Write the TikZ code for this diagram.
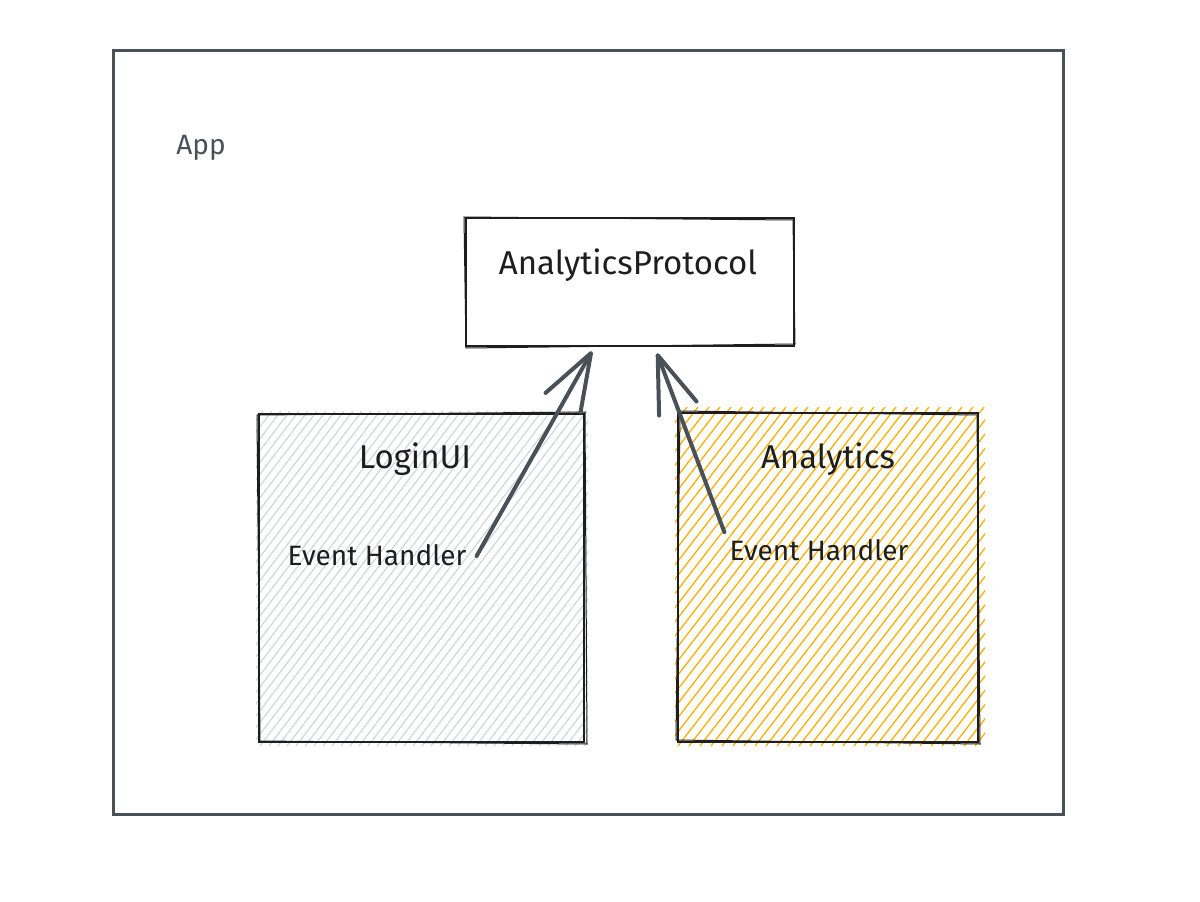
\documentclass[tikz,border=0pt]{standalone}
\usepackage{fontspec}
\setmainfont{Fira Sans}
\usetikzlibrary{arrows.meta,calc}
\definecolor{frame}{HTML}{495057}
\definecolor{ink}{HTML}{1E1E1E}
\definecolor{hgray}{HTML}{CED4DA}
\definecolor{horange}{HTML}{FAB005}
\tikzset{
  box/.style={draw=ink, line width=2.6pt, inner sep=0pt},
  big/.style={text=ink, font=\fontsize{33}{38}\selectfont, inner sep=2pt},
  small/.style={text=ink, font=\fontsize{28}{32}\selectfont, inner sep=2pt},
  conn/.style={draw=frame, line width=4pt, line cap=round, line join=round,
    -{Straight Barb[length=57pt 0 0, width=40pt 0 0, line cap=round, line join=round]}},
  sketch/.style={draw=ink, line width=1pt, line cap=round}
}
\begin{document}
\begin{tikzpicture}[x=1pt,y=-1pt]
\useasboundingbox[fill=white] (0,0) rectangle (1200,902);
% App frame
\node[draw=frame, line width=3pt, minimum width=950pt, minimum height=764pt, inner sep=0pt] (app) at (588,432) {};
\node[text=frame, font=\fontsize{28}{32}\selectfont, inner sep=0pt] (applabel) at (201,148) {App};
% hachure fills
\begin{scope}
  \clip (256,411) rectangle (588,746);
  \foreach \i in {-260,-251,...,330}
    \draw[hgray, line width=1.1pt] ({259+\i},746) -- ({259+\i+255},411);
\end{scope}
\begin{scope}
  \clip (675,407) rectangle (985,746);
  \foreach \i in {-275,-264,...,310}
    \draw[horange, line width=1.3pt] ({678+\i},746) -- ({678+\i+262},407);
\end{scope}
% boxes
\node[box, minimum width=328pt, minimum height=128pt] (proto) at (630,282) {};
\draw[sketch] (464,217) -- (793,220) -- (795,344) -- (466,348) -- cycle;
\node[big] (protolabel) at (628,265) {AnalyticsProtocol};
\node[box, minimum width=325pt, minimum height=328pt] (login) at (421.5,578) {};
\draw[sketch] (257,415) -- (585,412) -- (587,744) -- (260,741) -- cycle;
\node[big] (loginlabel) at (415,459) {LoginUI};
\node[small] (eh1) at (377,555) {Event Handler};
\node[box, minimum width=300pt, minimum height=329pt] (analytics) at (828,577.5) {};
\draw[sketch] (680,411) -- (977,415) -- (980,744) -- (676,740) -- cycle;
\node[big] (analyticslabel) at (828,459) {Analytics};
\node[small] (eh2) at (819,550) {Event Handler};
% connectors
\draw[conn] ($(eh1.east)+(8,1)$) -- ($(proto.south)+(-38,4)$);
\draw[conn] ($(eh2.north west)+(-3,-5)$) -- ($(proto.south)+(27,6)$);
\end{tikzpicture}
\end{document}
